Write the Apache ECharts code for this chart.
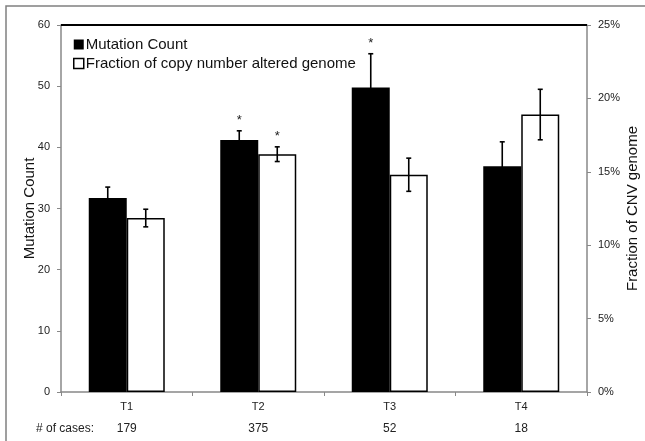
<!DOCTYPE html>
<html>
<head>
<meta charset="utf-8">
<script src="https://cdn.jsdelivr.net/npm/echarts@6/dist/echarts.min.js"></script>
<style>
  html, body { margin: 0; padding: 0; background: #fff; }
  #chart { width: 645px; height: 441px; }
</style>
</head>
<body>
<div id="chart"></div>
<script>
// data
var categories = ['T1', 'T2', 'T3', 'T4'];
var cases = [179, 375, 52, 18];
var mutationCount = [31.7, 41.2, 49.8, 36.9];
var mutationErr = [1.8, 1.5, 5.5, 4.0];
var cnvFraction = [0.1185, 0.162, 0.148, 0.189];
var cnvErr = [0.006, 0.005, 0.0113, 0.0172];
// significance stars (*) above the error bars
var mutationStar = [false, true, true, false];
var cnvStar = [false, true, false, false];

var FONT = 'Liberation Sans, Arial, sans-serif';
var BAR_W = 38;

// error bars + stars, drawn through the axes
function errorSeries(means, errs, stars, yIdx, offset) {
  return {
    type: 'custom',
    yAxisIndex: yIdx,
    z: 10,
    silent: true,
    data: means.map(function (m, i) {
      return [i, m - errs[i], m + errs[i], stars[i] ? 1 : 0];
    }),
    encode: { x: 0, y: [1, 2] },
    renderItem: function (params, api) {
      var i = api.value(0);
      var lo = api.coord([i, api.value(1)]);
      var hi = api.coord([i, api.value(2)]);
      var x = lo[0] + offset;
      var st = { stroke: '#000', lineWidth: 1.6 };
      var kids = [
        { type: 'line', shape: { x1: x, y1: lo[1], x2: x, y2: hi[1] }, style: st },
        { type: 'line', shape: { x1: x - 2.5, y1: hi[1], x2: x + 2.5, y2: hi[1] }, style: st },
        { type: 'line', shape: { x1: x - 2.5, y1: lo[1], x2: x + 2.5, y2: lo[1] }, style: st }
      ];
      if (api.value(3)) {
        kids.push({
          type: 'text', x: x, y: hi[1] - 17,
          style: { text: '*', fill: '#222', font: '13px ' + FONT, textAlign: 'center', textVerticalAlign: 'top' }
        });
      }
      return { type: 'group', children: kids };
    }
  };
}

var chart = echarts.init(document.getElementById('chart'));
chart.setOption({
  animation: false,
  textStyle: { fontFamily: FONT },
  grid: { left: 61, right: 58, top: 25, bottom: 49, containLabel: false, outerBoundsMode: 'none' },
  graphic: [
    {
      type: 'rect', z: -10, silent: true,
      shape: { x: 6, y: 6, width: 660, height: 460 },
      style: { fill: 'none', stroke: '#808080', lineWidth: 1.5 }
    },
    {
      type: 'text', left: 36, top: 423,
      style: { text: '# of cases:', fill: '#222', font: '12px ' + FONT }
    }
  ],
  legend: {
    orient: 'vertical',
    left: 73, top: 37, padding: 0,
    itemWidth: 10, itemHeight: 10, itemGap: 4,
    icon: 'rect',
    textStyle: { fontSize: 15, color: '#111', padding: [0, 0, 0, -3] },
    data: [
      { name: 'Mutation Count', itemStyle: { color: '#000' } },
      { name: 'Fraction of copy number altered genome',
        itemStyle: { color: '#fff', borderColor: '#000', borderWidth: 1.5 } }
    ]
  },
  xAxis: {
    type: 'category',
    data: categories,
    axisLine: { lineStyle: { color: '#888', width: 1.5 } },
    axisTick: { show: true, length: 4, lineStyle: { color: '#888' } },
    axisLabel: {
      margin: 4, fontSize: 11, color: '#222', lineHeight: 22,
      formatter: function (v, idx) { return v + '\n{c|' + cases[idx] + '}'; },
      rich: { c: { fontSize: 12, color: '#222', lineHeight: 22 } }
    }
  },
  yAxis: [
    {
      type: 'value', min: 0, max: 60, interval: 10,
      name: 'Mutation Count', nameLocation: 'middle', nameGap: 24, nameRotate: 90,
      nameMoveOverlap: false,
      nameTextStyle: { fontSize: 15, color: '#111' },
      axisLine: { show: true, lineStyle: { color: '#888', width: 1.5 } },
      axisTick: { show: true, length: 4, lineStyle: { color: '#888' } },
      axisLabel: { fontSize: 11, color: '#222', margin: 11 },
      splitLine: { show: false }
    },
    {
      type: 'value', min: 0, max: 0.25, interval: 0.05,
      name: 'Fraction of CNV genome', nameLocation: 'middle', nameGap: 38, nameRotate: 90,
      nameMoveOverlap: false,
      nameTextStyle: { fontSize: 15, color: '#111' },
      axisLine: { show: true, lineStyle: { color: '#888', width: 1.5 } },
      axisTick: { show: true, length: 4, lineStyle: { color: '#888' } },
      axisLabel: {
        fontSize: 11, color: '#222', margin: 11,
        formatter: function (v) { return Math.round(v * 100) + '%'; }
      },
      splitLine: { show: false }
    }
  ],
  series: [
    {
      name: 'Mutation Count', type: 'bar', yAxisIndex: 0,
      barWidth: BAR_W, barGap: '0%',
      itemStyle: { color: '#000' },
      data: mutationCount,
      // black top edge of the plot area
      markLine: {
        silent: true, symbol: 'none', label: { show: false },
        lineStyle: { color: '#000', width: 2, type: 'solid' },
        data: [{ yAxis: 60 }]
      }
    },
    {
      name: 'Fraction of copy number altered genome', type: 'bar', yAxisIndex: 1,
      barWidth: BAR_W, barGap: '0%',
      itemStyle: { color: '#fff', borderColor: '#000', borderWidth: 1.5 },
      data: cnvFraction
    },
    errorSeries(mutationCount, mutationErr, mutationStar, 0, -BAR_W / 2),
    errorSeries(cnvFraction, cnvErr, cnvStar, 1, BAR_W / 2)
  ]
});
</script>
</body>
</html>
